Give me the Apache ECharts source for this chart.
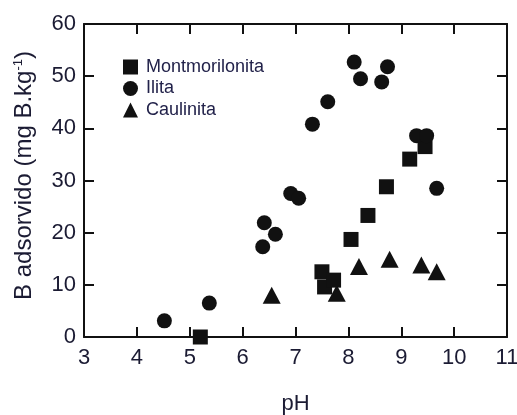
<!DOCTYPE html>
<html>
<head>
<meta charset="utf-8">
<script src="https://cdn.jsdelivr.net/npm/echarts@6/dist/echarts.min.js"></script>
<style>
  html, body { margin: 0; padding: 0; background: #fff; }
  #chart { width: 517px; height: 415px; }
</style>
</head>
<body>
<div id="chart"></div>
<script>
// pH vs B adsorvido
const montmorilonita = [
  [5.2, 0], [7.5, 12.5], [7.55, 9.6], [7.72, 10.9], [8.05, 18.7],
  [8.37, 23.3], [8.72, 28.8], [9.16, 34.1], [9.45, 36.5]
]
const ilita = [
  [4.52, 3.1], [5.37, 6.5], [6.38, 17.3], [6.41, 21.9], [6.62, 19.7],
  [6.91, 27.5], [7.06, 26.6], [7.32, 40.8], [7.61, 45.1], [8.11, 52.7],
  [8.23, 49.5], [8.63, 48.9], [8.74, 51.8], [9.29, 38.6], [9.48, 38.6],
  [9.67, 28.5]
]
const caulinita = [
  [6.55, 8.0], [7.78, 8.4], [8.2, 13.5], [8.78, 14.9], [9.38, 13.8], [9.67, 12.5]
]

const textColor = '#1b1b33'
const font = 'Liberation Sans, Arial, sans-serif'

let myChart = echarts.init(document.getElementById('chart'))

function axisLine() {
  return { show: true, onZero: false, lineStyle: { color: '#111', width: 2 } }
}
function tickIn() {
  return { show: true, inside: true, length: 10, lineStyle: { color: '#111', width: 2 } }
}

let option = {
  backgroundColor: '#fff',
  animation: false,
  grid: { left: 84, right: 10, top: 24, bottom: 78, containLabel: false, outerBoundsMode: 'none' },
  legend: {
    orient: 'vertical',
    left: 118,
    top: 53,
    itemWidth: 15,
    itemHeight: 15,
    itemGap: 3.5,
    textStyle: { fontFamily: font, fontSize: 18, lineHeight: 18, color: '#22224a', padding: [0, 0, 0, 3] },
    data: [
      { name: 'Montmorilonita', icon: 'rect' },
      { name: 'Ilita', icon: 'circle' },
      { name: 'Caulinita', icon: 'triangle' }
    ]
  },
  xAxis: [
    {
      type: 'value', min: 3, max: 11, interval: 1, position: 'bottom',
      name: 'pH', nameLocation: 'middle', nameGap: 56,
      nameTextStyle: { fontFamily: font, fontSize: 22, color: textColor },
      axisLine: axisLine(), axisTick: tickIn(),
      axisLabel: { margin: 10, fontFamily: font, fontSize: 22, color: textColor },
      splitLine: { show: false }
    },
    {
      type: 'value', min: 3, max: 11, interval: 1, position: 'top',
      axisLine: axisLine(), axisTick: tickIn(),
      axisLabel: { show: false }, splitLine: { show: false }
    }
  ],
  yAxis: [
    {
      type: 'value', min: 0, max: 60, interval: 10, position: 'left',
      name: 'B adsorvido (mg B.kg{sup|-1})', nameLocation: 'middle', nameGap: 48,
      nameTextStyle: {
        fontFamily: font, fontSize: 24, color: textColor, padding: [0, 0, 0, 10],
        rich: { sup: { fontFamily: font, fontSize: 13, color: textColor, verticalAlign: 'top', padding: [0, 0, 10, 0] } }
      },
      axisLine: axisLine(), axisTick: tickIn(),
      axisLabel: { margin: 8, fontFamily: font, fontSize: 22, color: textColor },
      splitLine: { show: false }
    },
    {
      type: 'value', min: 0, max: 60, interval: 10, position: 'right',
      axisLine: axisLine(), axisTick: tickIn(),
      axisLabel: { show: false }, splitLine: { show: false }
    }
  ],
  series: [
    {
      name: 'Montmorilonita', type: 'scatter', symbol: 'rect', symbolSize: 15,
      itemStyle: { color: '#111', opacity: 1 }, data: montmorilonita
    },
    {
      name: 'Ilita', type: 'scatter', symbol: 'circle', symbolSize: 15,
      itemStyle: { color: '#111', opacity: 1 }, data: ilita
    },
    {
      name: 'Caulinita', type: 'scatter', symbol: 'triangle', symbolSize: [18, 17],
      itemStyle: { color: '#111', opacity: 1 }, data: caulinita
    }
  ]
}

myChart.setOption(option)
</script>
</body>
</html>
